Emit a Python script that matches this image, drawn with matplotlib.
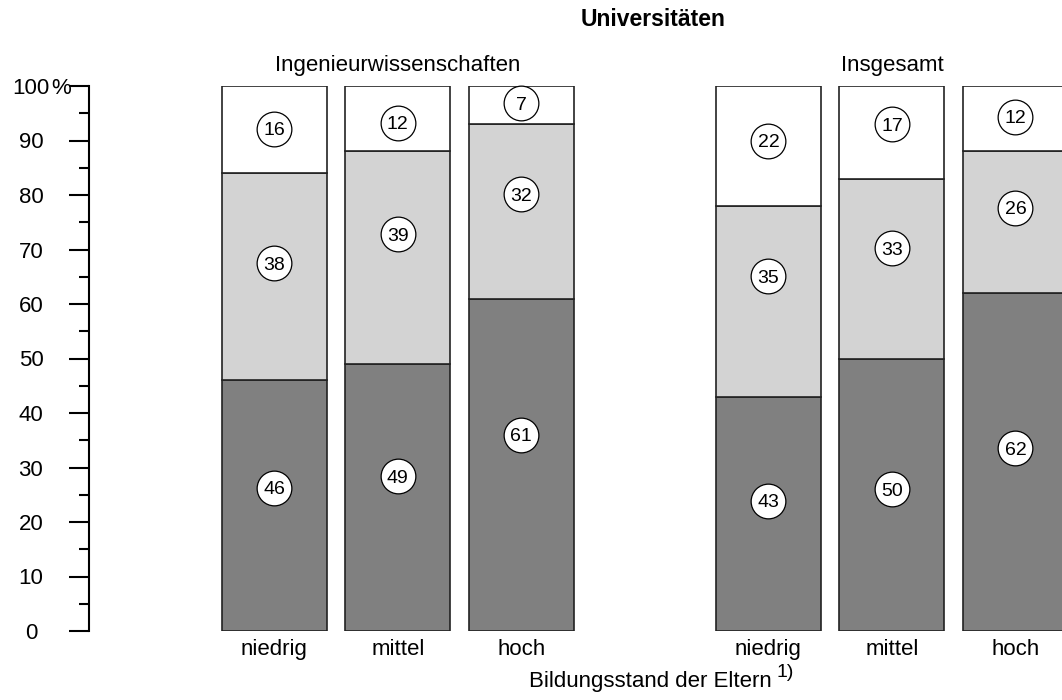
import matplotlib
matplotlib.use("Agg")
import matplotlib.pyplot as plt
import matplotlib.transforms as mtransforms
import numpy as np

plt.rcParams['font.family'] = ['Liberation Sans', 'DejaVu Sans']

# ---- data ----
groups = ["Ingenieurwissenschaften", "Insgesamt"]
categories = ["niedrig", "mittel", "hoch"]
dark_vals = [46, 49, 61, 43, 50, 62]
light_vals = [38, 39, 32, 35, 33, 26]
white_vals = [16, 12, 7, 22, 17, 12]
# label anchor heights (in %) as placed in the reference
dark_label_y = [26.3, 28.4, 36.0, 23.9, 26.0, 33.5]
light_label_y = [67.5, 72.8, 80.1, 65.1, 70.2, 77.7]
white_label_y = [92.2, 93.3, 96.8, 90.0, 93.0, 94.4]
yticks_major = list(range(0, 101, 10))
title = "Universitäten"
xlabel = "Bildungsstand der Eltern"

W, H = 1062, 700
fig = plt.figure(figsize=(W / 100, H / 100), dpi=100)
ax = fig.add_axes([89 / W, 1 - 631 / H, 1 - 89 / W, (631 - 86) / H])

x = np.array([0, 1, 2, 4, 5, 6], dtype=float)
bw = 0.85
dark_c = "#808080"
light_c = "#d3d3d3"
edge = "#222222"

d = np.array(dark_vals)
l = np.array(light_vals)
w = np.array(white_vals)
ax.bar(x, d, bw, color=dark_c, edgecolor=edge, linewidth=1.2)
ax.bar(x, l, bw, bottom=d, color=light_c, edgecolor=edge, linewidth=1.2)
ax.bar(x, w, bw, bottom=d + l, color="white", edgecolor=edge, linewidth=1.2)

for vals, ys in [(dark_vals, dark_label_y), (light_vals, light_label_y), (white_vals, white_label_y)]:
    for xi, v, yy in zip(x, vals, ys):
        ax.plot([xi], [yy], marker="o", ms=25, mfc="white", mec="black", mew=0.9,
                clip_on=False, zorder=5)
        ax.text(xi, yy, str(v), ha="center", va="center_baseline", fontsize=14, zorder=6)

ax.set_xlim(-1.5, 6.377)
ax.set_ylim(0, 100)

for s in ["top", "right", "bottom"]:
    ax.spines[s].set_visible(False)
ax.spines["left"].set_linewidth(1.5)
ax.spines["left"].set_bounds(0, 100)

ax.set_yticks(yticks_major)
ax.set_yticklabels([str(t) for t in yticks_major], fontsize=16, ha="center")
ax.set_yticks(list(range(5, 100, 10)), minor=True)
ax.tick_params(axis="y", which="major", length=14.4, width=1.5, direction="out", pad=27.4)
ax.tick_params(axis="y", which="minor", length=7.2, width=1.5, direction="out")
ax.set_xticks([])

fig.text(51 / W, 1 - 86 / H, "%", ha="left", va="center_baseline", fontsize=16)

# category labels under bars
trans = mtransforms.blended_transform_factory(ax.transData, fig.transFigure)
for xi, c in zip(x, categories * 2):
    ax.text(xi, 1 - 655 / H, c, transform=trans, ha="center", va="baseline", fontsize=16)

# group titles
ax.text(1, 1 - 70.5 / H, groups[0], transform=trans, ha="center", va="baseline", fontsize=16)
ax.text(5, 1 - 70.5 / H, groups[1], transform=trans, ha="center", va="baseline", fontsize=16)

fig.text(653 / W, 1 - 20 / H, title, ha="center", va="center", fontsize=16.5, fontweight="bold")
fig.text(650 / W, 1 - 686.5 / H, xlabel, ha="center", va="baseline", fontsize=16)
fig.text(777 / W, 1 - 677 / H, "1)", ha="left", va="baseline", fontsize=14)

fig.savefig("out.png", dpi=100)
